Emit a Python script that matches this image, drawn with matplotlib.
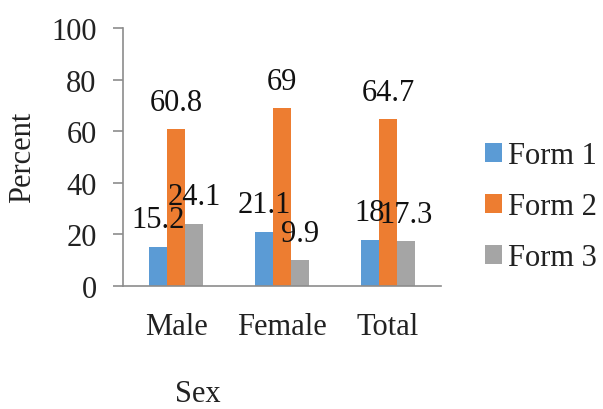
import numpy as np
import matplotlib.pyplot as plt

plt.rcParams['font.family'] = ['Liberation Serif', 'DejaVu Serif']

# survey results by sex
groups = ['Male', 'Female', 'Total']
series = ['Form 1', 'Form 2', 'Form 3']
form1 = [15.2, 21.1, 18]
form2 = [60.8, 69, 64.7]
form3 = [24.1, 9.9, 17.3]
colors = ['#5B9BD5', '#ED7D31', '#A5A5A5']

FS = 22

fig = plt.figure(figsize=(6.03, 4.10), dpi=100)
ax = fig.add_axes([123 / 603, 1 - 287 / 410, 318 / 603, 258 / 410])

x = np.arange(len(groups))
w = 0.17
for i, (vals, name) in enumerate(zip([form1, form2, form3], series)):
    pos = x + (i - 1) * w
    ax.bar(pos, vals, width=w, color=colors[i], label=name)
    for px, v in zip(pos, vals):
        ax.annotate('{:g}'.format(v), (px, v), xytext=(0, 14),
                    textcoords='offset points', ha='center', va='baseline',
                    fontsize=FS, color='#111111')

ax.set_xlim(-0.5, 2.5)
ax.set_ylim(0, 100)
ax.set_yticks(range(0, 101, 20))
ax.set_xticks(x)
ax.set_xticklabels(groups)

for s in ['top', 'right']:
    ax.spines[s].set_visible(False)
for s in ['left', 'bottom']:
    ax.spines[s].set_color('#8C8C8C')
    ax.spines[s].set_linewidth(1.2)
ax.tick_params(axis='y', length=7, width=1.2, color='#8C8C8C', pad=12,
               labelsize=FS, labelcolor='#222222')
ax.tick_params(axis='x', length=0, pad=19, labelsize=FS, labelcolor='#222222')

fig.text(23 / 603, 1 - 157 / 410, 'Percent', rotation=90, ha='center',
         va='center', fontsize=FS, color='#222222')
fig.text(198 / 603, 1 - 395 / 410, 'Sex', ha='center', va='center',
         fontsize=FS, color='#222222')

leg = fig.legend(loc='center left', bbox_to_anchor=(485 / 603, 1 - 208 / 410),
                 frameon=False, fontsize=FS, handlelength=0.55,
                 handleheight=0.55, handletextpad=0.2, labelspacing=0.72,
                 borderpad=0, borderaxespad=0)
for t in leg.get_texts():
    t.set_color('#222222')

fig.savefig('out.png', dpi=100)
